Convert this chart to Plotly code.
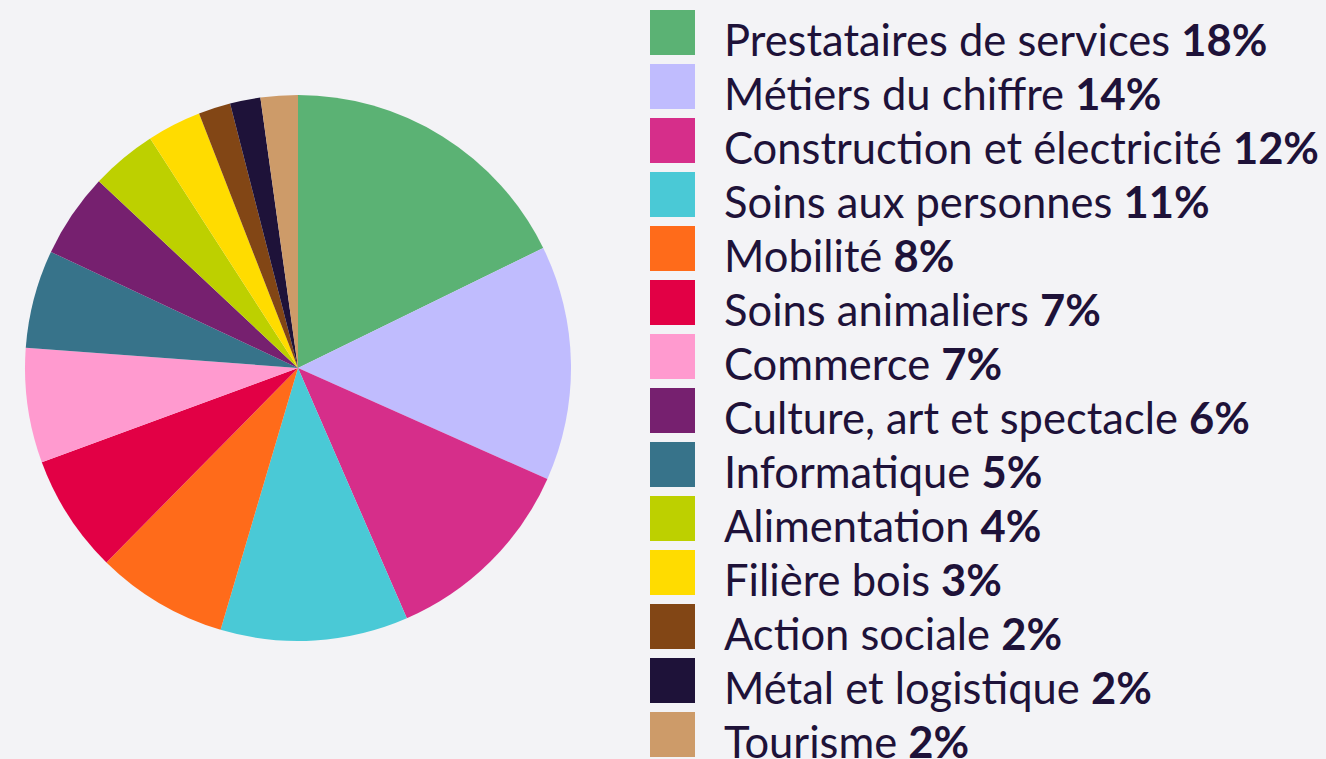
import plotly.graph_objects as go

categories = ["Prestataires de services", "Métiers du chiffre", "Construction et électricité",
              "Soins aux personnes", "Mobilité", "Soins animaliers", "Commerce",
              "Culture, art et spectacle", "Informatique", "Alimentation", "Filière bois",
              "Action sociale", "Métal et logistique", "Tourisme"]
values = [17.75, 13.9, 11.8, 11.1, 7.8, 7.0, 6.8, 5.0, 5.8, 3.9, 3.2, 1.9, 1.8, 2.2]
pct_labels = ["18%", "14%", "12%", "11%", "8%", "7%", "7%", "6%", "5%", "4%", "3%", "2%", "2%", "2%"]
colors = ["#5BB274", "#C0BCFE", "#D62E8A", "#4AC9D6", "#FF6B1A", "#E20045", "#FF9ACF",
          "#76206F", "#37738A", "#BDD000", "#FFDC00", "#824615", "#1E1239", "#CD9B69"]
# order in which the slices appear clockwise in the pie
pie_order = [0, 1, 2, 3, 4, 5, 6, 8, 7, 9, 10, 11, 12, 13]

W, H = 1326, 759
BG = "#F3F3F6"
TEXT = "#1E1239"

fig = go.Figure(go.Pie(
    labels=[categories[i] for i in pie_order],
    values=[values[i] for i in pie_order],
    sort=False, direction="clockwise", rotation=0,
    marker=dict(colors=[colors[i] for i in pie_order], line=dict(width=0)),
    textinfo="none", hoverinfo="label+percent",
    domain=dict(x=[25 / W, 571 / W], y=[1 - 641 / H, 1 - 95 / H]),
    showlegend=False,
))

shapes, annotations = [], []
for i, (name, pct, col) in enumerate(zip(categories, pct_labels, colors)):
    top = 10 + i * 54
    shapes.append(dict(type="rect", xref="paper", yref="paper",
                       x0=650 / W, x1=695 / W, y0=1 - (top + 45) / H, y1=1 - top / H,
                       fillcolor=col, line=dict(width=0)))
    annotations.append(dict(xref="paper", yref="paper", x=722 / W, y=1 - (top + 29) / H,
                            xanchor="left", yanchor="middle", showarrow=False,
                            text=f"{name} <b>{pct}</b>",
                            font=dict(family="Lato", size=43.5, color=TEXT)))

fig.update_layout(
    width=W, height=H, margin=dict(l=0, r=0, t=0, b=0),
    paper_bgcolor=BG, plot_bgcolor=BG,
    shapes=shapes, annotations=annotations,
)
fig.write_html("out.html", config={"displayModeBar": False})

with open("out.html", encoding="utf-8") as f:
    html = f.read()
html = html.replace("<body>", f"<body style=\"margin:0;background:{BG};overflow:hidden\">", 1)
with open("out.html", "w", encoding="utf-8") as f:
    f.write(html)
